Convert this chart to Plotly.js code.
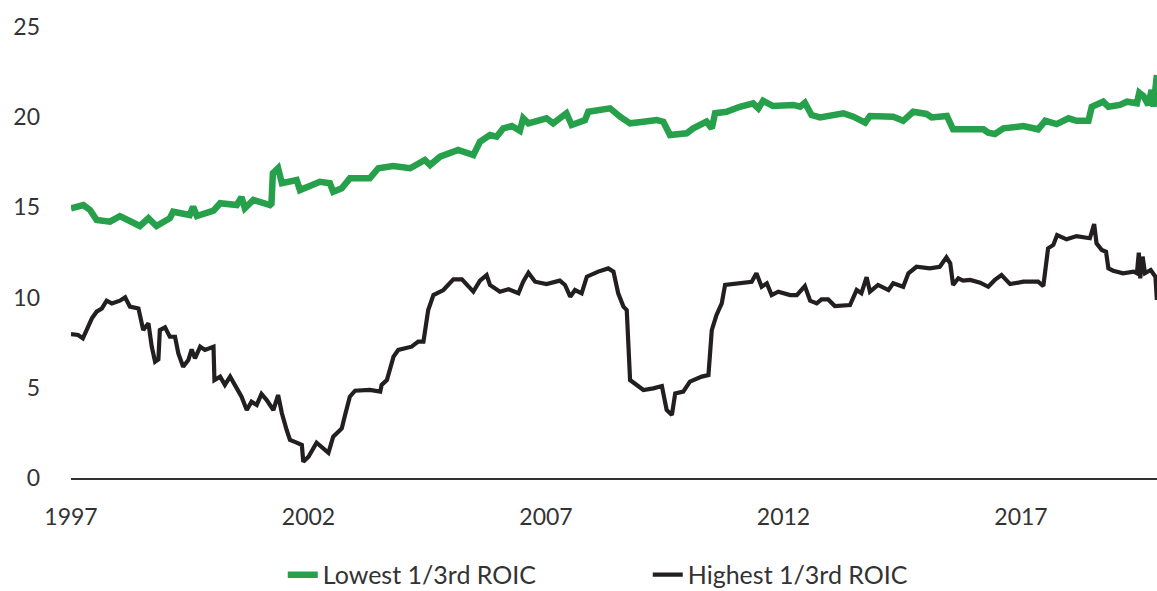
<!DOCTYPE html>
<html>
<head>
<meta charset="utf-8">
<script src="https://cdn.plot.ly/plotly-3.0.1.min.js"></script>
<style>html,body{margin:0;padding:0;background:#fff;}#chart{width:1157px;height:591px;}</style>
</head>
<body>
<div id="chart"></div>
<script>
const lowYears = [1997.00,1997.26,1997.40,1997.54,1997.82,1998.03,1998.45,1998.63,1998.80,1999.08,1999.15,1999.50,1999.57,1999.65,2000.00,2000.14,2000.49,2000.59,2000.66,2000.84,2001.19,2001.22,2001.25,2001.36,2001.44,2001.75,2001.82,2002.03,2002.24,2002.45,2002.52,2002.70,2002.87,2003.29,2003.47,2003.78,2004.14,2004.45,2004.56,2004.77,2005.15,2005.47,2005.61,2005.82,2005.96,2006.10,2006.28,2006.45,2006.52,2006.63,2007.01,2007.15,2007.43,2007.54,2007.82,2007.89,2008.14,2008.35,2008.56,2008.77,2009.05,2009.33,2009.47,2009.61,2009.96,2010.10,2010.38,2010.49,2010.56,2010.80,2011.08,2011.36,2011.47,2011.57,2011.78,2012.21,2012.35,2012.45,2012.59,2012.77,2013.26,2013.47,2013.72,2013.82,2014.31,2014.52,2014.73,2015.01,2015.12,2015.44,2015.57,2015.93,2016.21,2016.31,2016.45,2016.63,2017.05,2017.36,2017.51,2017.75,2018.00,2018.17,2018.42,2018.49,2018.73,2018.84,2019.08,2019.23,2019.44,2019.49,2019.58,2019.68,2019.75,2019.79,2019.83,2019.86];
const lowValues = [14.95,15.13,14.86,14.30,14.21,14.52,13.97,14.40,13.97,14.40,14.76,14.58,15.04,14.52,14.82,15.23,15.13,15.56,14.95,15.41,15.13,15.20,16.89,17.17,16.34,16.52,15.96,16.15,16.42,16.34,15.87,16.06,16.61,16.61,17.17,17.29,17.17,17.63,17.35,17.81,18.18,17.90,18.64,19.01,18.92,19.38,19.51,19.25,19.94,19.66,19.94,19.66,20.22,19.57,19.84,20.30,20.40,20.49,20.03,19.66,19.75,19.84,19.75,19.01,19.11,19.38,19.75,19.38,20.22,20.30,20.58,20.77,20.49,20.91,20.62,20.68,20.58,20.80,20.12,19.99,20.22,20.03,19.70,20.07,20.03,19.80,20.30,20.18,19.99,20.07,19.33,19.33,19.33,19.14,19.07,19.38,19.51,19.33,19.80,19.62,19.94,19.80,19.80,20.58,20.86,20.58,20.68,20.86,20.77,21.36,21.17,20.68,21.51,20.58,21.78,22.34];

const highYears = [1997.00,1997.15,1997.25,1997.33,1997.44,1997.54,1997.65,1997.75,1997.86,1998.03,1998.14,1998.24,1998.42,1998.52,1998.63,1998.70,1998.77,1998.84,1998.87,1998.98,1999.08,1999.19,1999.26,1999.36,1999.47,1999.54,1999.61,1999.72,1999.82,2000.00,2000.02,2000.14,2000.24,2000.35,2000.45,2000.59,2000.70,2000.80,2000.91,2001.01,2001.12,2001.26,2001.36,2001.44,2001.54,2001.61,2001.75,2001.86,2001.89,2002.00,2002.17,2002.31,2002.42,2002.52,2002.70,2002.77,2002.87,2002.98,2003.29,2003.51,2003.54,2003.65,2003.79,2003.89,2004.17,2004.31,2004.42,2004.52,2004.63,2004.84,2005.05,2005.23,2005.47,2005.61,2005.75,2005.82,2006.03,2006.21,2006.42,2006.52,2006.63,2006.77,2007.01,2007.29,2007.40,2007.51,2007.61,2007.75,2007.86,2008.10,2008.31,2008.42,2008.52,2008.63,2008.70,2008.77,2008.87,2009.05,2009.26,2009.44,2009.54,2009.65,2009.72,2009.89,2010.03,2010.28,2010.42,2010.49,2010.59,2010.70,2010.77,2011.08,2011.33,2011.43,2011.54,2011.65,2011.75,2011.89,2012.14,2012.28,2012.45,2012.56,2012.70,2012.80,2012.94,2013.08,2013.40,2013.54,2013.64,2013.75,2013.82,2013.99,2014.21,2014.31,2014.52,2014.63,2014.80,2015.08,2015.29,2015.43,2015.51,2015.57,2015.68,2015.78,2015.93,2016.14,2016.31,2016.45,2016.59,2016.77,2017.05,2017.36,2017.47,2017.57,2017.68,2017.76,2017.96,2018.17,2018.45,2018.54,2018.59,2018.70,2018.79,2018.84,2018.94,2019.15,2019.37,2019.44,2019.48,2019.51,2019.56,2019.61,2019.73,2019.83,2019.86];
const highValues = [7.98,7.93,7.74,8.20,8.85,9.22,9.40,9.83,9.68,9.83,10.02,9.50,9.40,8.20,8.58,7.28,6.45,6.58,8.20,8.35,7.83,7.83,6.91,6.17,6.54,7.13,6.63,7.28,7.10,7.28,5.43,5.62,5.16,5.62,5.16,4.51,3.77,4.23,4.05,4.66,4.32,3.77,4.60,3.59,2.66,2.11,1.96,1.83,0.90,1.18,1.96,1.65,1.40,2.29,2.75,3.49,4.51,4.84,4.88,4.79,5.16,5.43,6.73,7.10,7.28,7.56,7.56,9.31,10.14,10.42,11.01,11.01,10.33,10.94,11.25,10.70,10.33,10.46,10.24,10.88,11.38,10.88,10.75,10.94,10.70,10.05,10.42,10.24,11.16,11.44,11.62,11.44,10.24,9.50,9.31,5.43,5.25,4.88,4.97,5.10,3.77,3.49,4.69,4.79,5.34,5.62,5.71,8.20,9.04,9.68,10.70,10.79,10.88,11.35,10.60,10.79,10.14,10.33,10.14,10.14,10.64,9.83,9.68,9.90,9.90,9.53,9.59,10.42,10.24,11.13,10.33,10.70,10.42,10.79,10.60,11.35,11.71,11.62,11.71,12.23,11.90,10.70,11.07,10.94,10.98,10.83,10.60,10.98,11.25,10.75,10.88,10.88,10.64,12.73,12.92,13.47,13.23,13.41,13.29,14.08,13.01,12.64,12.54,11.62,11.49,11.35,11.44,11.35,12.49,11.07,12.27,11.35,11.53,11.16,9.87];

const tickYears = [1997, 2002, 2007, 2012, 2017];
const tickLabels = ["1997", "2002", "2007", "2012", "2017"];
const yTicks = [0, 5, 10, 15, 20, 25];
const seriesNames = ["Lowest 1/3rd ROIC", "Highest 1/3rd ROIC"];

const traces = [
  {x: lowYears, y: lowValues, type: 'scatter', mode: 'lines', name: seriesNames[0],
   line: {color: '#26a04b', width: 6.5}},
  {x: highYears, y: highValues, type: 'scatter', mode: 'lines', name: seriesNames[1],
   line: {color: '#231f20', width: 4.2}}
];

const layout = {
  width: 1157, height: 591,
  margin: {l: 71, r: 0, t: 27, b: 113, autoexpand: false},
  paper_bgcolor: '#ffffff', plot_bgcolor: '#ffffff',
  font: {family: 'Lato, "Open Sans", sans-serif', color: '#333333', size: 23},
  showlegend: true,
  legend: {orientation: 'h', x: 0.195, xanchor: 'left', y: -0.215, yanchor: 'middle',
    font: {family: 'Lato, "Open Sans", sans-serif', size: 25, color: '#333333'},
    entrywidth: 320, entrywidthmode: 'pixels', traceorder: 'normal'},
  xaxis: {range: [1997, 2019.863], tickmode: 'array', tickvals: tickYears, ticktext: tickLabels,
    showgrid: false, zeroline: false, showline: true, linecolor: '#333333', linewidth: 2,
    ticks: '', ticklabelstandoff: 17, tickfont: {size: 23, color: '#333333'}, fixedrange: true},
  yaxis: {range: [0, 25], tickmode: 'array', tickvals: yTicks, ticktext: yTicks.map(String),
    showgrid: false, zeroline: false, showline: false, ticks: '', ticklabelstandoff: 30,
    tickfont: {size: 23, color: '#333333'}, fixedrange: true}
};

Plotly.newPlot('chart', traces, layout, {displayModeBar: false, staticPlot: true});
</script>
</body>
</html>
